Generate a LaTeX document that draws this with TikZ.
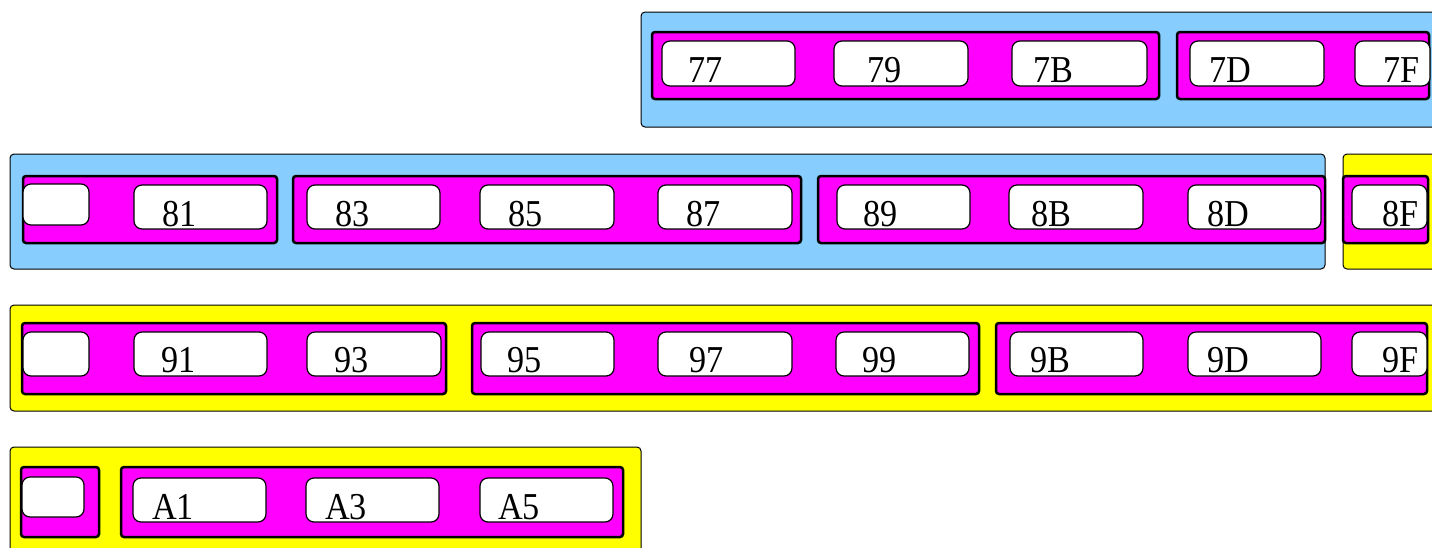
\documentclass[tikz,border=0pt]{standalone}
\usepackage{fontspec}
\newfontfamily\cellfont[FakeStretch=0.9]{Liberation Serif}
\definecolor{skyblue}{RGB}{135,206,255}
\definecolor{pagebg}{RGB}{255,255,0}
\definecolor{grpfill}{RGB}{255,0,255}
\begin{document}
\begin{tikzpicture}[x=1pt,y=-1pt,
  bluebox/.style={draw=black,fill=skyblue,line width=1pt,rounded corners=4pt},
  yellowbox/.style={draw=black,fill=pagebg,line width=1pt,rounded corners=4pt},
  grp/.style={draw=black,fill=grpfill,line width=2.5pt,rounded corners=3pt},
  cell/.style={draw=black,fill=white,line width=1.2pt,rounded corners=8pt},
  lbl/.style={anchor=base west,inner sep=0pt,font=\cellfont\fontsize{38}{40}\selectfont}]
\clip (0,0) rectangle (1432,547);

% row 1
\draw[bluebox] (641,12) rectangle (1450,127);
\draw[grp] (652,32) rectangle (1159,99);
\draw[grp] (1177,32) rectangle (1429,99);
\draw[cell] (662,41) rectangle (795,86);
\draw[cell] (834,41) rectangle (968,86);
\draw[cell] (1012,41) rectangle (1147,86);
\draw[cell] (1190,41) rectangle (1324,86);
\draw[cell] (1355,41) rectangle (1430,86);
\node[lbl] (t77) at (688,82) {77};
\node[lbl] (t79) at (867,82) {79};
\node[lbl] (t7B) at (1033,82) {7B};
\node[lbl] (t7D) at (1209,82) {7D};
\node[lbl] (t7F) at (1383,82) {7F};

% row 2
\draw[bluebox] (10,154) rectangle (1325,269);
\draw[yellowbox] (1343,154) rectangle (1450,269);
\draw[grp] (23,176) rectangle (277,243);
\draw[grp] (293,176) rectangle (801,243);
\draw[grp] (818,176) rectangle (1325,243);
\draw[grp] (1343,176) rectangle (1428,243);
\draw[cell] (23,184) rectangle (89,225);
\draw[cell] (134,185) rectangle (267,229);
\draw[cell] (307,185) rectangle (440,229);
\draw[cell] (480,185) rectangle (614,229);
\draw[cell] (658,185) rectangle (792,229);
\draw[cell] (837,185) rectangle (970,229);
\draw[cell] (1009,185) rectangle (1143,229);
\draw[cell] (1188,185) rectangle (1321,229);
\draw[cell] (1352,185) rectangle (1427,229);
\node[lbl] (t81) at (162,226) {81};
\node[lbl] (t83) at (335,226) {83};
\node[lbl] (t85) at (508,226) {85};
\node[lbl] (t87) at (686,226) {87};
\node[lbl] (t89) at (863,226) {89};
\node[lbl] (t8B) at (1031,226) {8B};
\node[lbl] (t8D) at (1207,226) {8D};
\node[lbl] (t8F) at (1382,226) {8F};

% row 3
\draw[yellowbox] (10,305) rectangle (1450,411);
\draw[grp] (22,323) rectangle (446,394);
\draw[grp] (472,323) rectangle (979,394);
\draw[grp] (996,323) rectangle (1427,394);
\draw[cell] (23,332) rectangle (89,376);
\draw[cell] (134,332) rectangle (267,376);
\draw[cell] (307,332) rectangle (441,376);
\draw[cell] (481,332) rectangle (614,376);
\draw[cell] (658,332) rectangle (792,376);
\draw[cell] (836,332) rectangle (969,376);
\draw[cell] (1010,332) rectangle (1143,376);
\draw[cell] (1188,332) rectangle (1321,376);
\draw[cell] (1352,332) rectangle (1427,376);
\node[lbl] (t91) at (161,372) {91};
\node[lbl] (t93) at (334,372) {93};
\node[lbl] (t95) at (507,372) {95};
\node[lbl] (t97) at (689,372) {97};
\node[lbl] (t99) at (862,372) {99};
\node[lbl] (t9B) at (1030,372) {9B};
\node[lbl] (t9D) at (1207,372) {9D};
\node[lbl] (t9F) at (1382,372) {9F};

% row 4
\draw[yellowbox] (10,447) rectangle (641,570);
\draw[grp] (21,467) rectangle (99,537);
\draw[grp] (121,467) rectangle (623,537);
\draw[cell] (22,477) rectangle (84,517);
\draw[cell] (133,478) rectangle (266,522);
\draw[cell] (306,478) rectangle (439,522);
\draw[cell] (480,478) rectangle (613,522);
\node[lbl] (tA1) at (152,519) {A1};
\node[lbl] (tA3) at (325,519) {A3};
\node[lbl] (tA5) at (498,519) {A5};
\end{tikzpicture}
\end{document}
